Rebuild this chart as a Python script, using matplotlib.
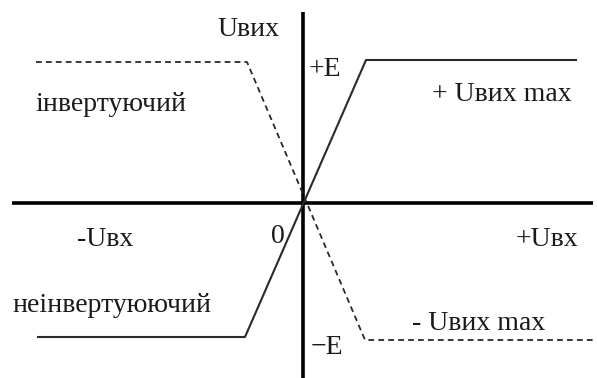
import matplotlib.pyplot as plt

# transfer characteristic (input in arbitrary units, output in units ~E)
noninv_x = [-2.65, -0.58, 0.63, 2.73]
noninv_y = [-1.34, -1.34, 1.43, 1.43]
inv_x = [-2.67, -0.56, 0.62, 2.91]
inv_y = [1.41, 1.41, -1.37, -1.37]

axis_x = [-2.91, 2.90]
axis_y = [-1.75, 1.91]

labels = [
    ("Uвих", -0.55, 1.73, "center"),
    ("+E", 0.06, 1.33, "left"),
    ("+ Uвих max", 1.99, 1.08, "center"),
    ("інвертуючий", -2.68, 0.98, "left"),
    ("-Uвх", -1.98, -0.37, "center"),
    ("0", -0.25, -0.34, "center"),
    ("+Uвх", 2.44, -0.37, "center"),
    ("неінвертуюючий", -2.91, -1.02, "left"),
    ("- Uвих max", 1.76, -1.21, "center"),
    ("−E", 0.08, -1.44, "left"),
]

fig = plt.figure(figsize=(5.97, 3.78), dpi=100)
ax = fig.add_axes([0, 0, 1, 1])
ax.set_xlim(-3.03, 2.94)
ax.set_ylim(-1.75, 2.03)
ax.axis("off")

ax.plot(axis_x, [0, 0], color="black", lw=2.6, solid_capstyle="butt")
ax.plot([0, 0], axis_y, color="black", lw=2.6, solid_capstyle="butt")

ax.plot(noninv_x, noninv_y, color="#2a2a2a", lw=1.5)
ax.plot(inv_x, inv_y, color="#2a2a2a", lw=1.3, linestyle=(0, (3.2, 2.3)))

for text, x, y, ha in labels:
    ax.text(x, y, text, ha=ha, va="center", fontsize=20,
            family=["Liberation Serif", "DejaVu Serif"], color="#1a1a1a")

fig.savefig("out.png", dpi=100)
